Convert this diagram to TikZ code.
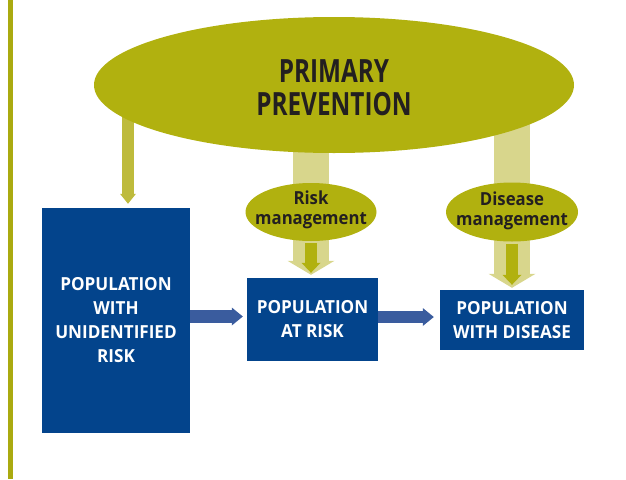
\documentclass[tikz,border=0pt]{standalone}
\usepackage{fontspec}
\setmainfont{Open Sans}
\newfontfamily\titlefont[FakeStretch=0.76]{Open Sans}
\newfontfamily\boxfont[FakeStretch=0.95]{Open Sans}
\newfontfamily\mgmtfont[FakeStretch=0.93]{Open Sans}
\usetikzlibrary{shapes.geometric,arrows.meta,backgrounds}
\definecolor{olivemain}{HTML}{B1B10F}
\definecolor{olivebar}{HTML}{AAAA10}
\definecolor{olivepale}{HTML}{D8D68C}
\definecolor{oliveleft}{HTML}{BEBB3C}
\definecolor{boxblue}{HTML}{03448C}
\definecolor{arrblue}{HTML}{3A5C9E}
\definecolor{textdark}{HTML}{231F20}
\tikzset{
  bigell/.style={ellipse, fill=olivemain, minimum width=480pt, minimum height=136pt, inner sep=0pt},
  mgmtell/.style={ellipse, fill=olivemain, minimum width=131pt, minimum height=58pt, inner sep=0pt},
  mgmttext/.style={text=textdark, align=center, inner sep=0pt, font=\mgmtfont\bfseries\fontsize{18}{19.5}\selectfont},
  popbox/.style={rectangle, fill=boxblue, inner sep=0pt, text=white, align=center,
    font=\boxfont\bfseries\fontsize{18}{24}\selectfont},
  titletext/.style={text=textdark, align=center, inner sep=0pt, font=\titlefont\bfseries\fontsize{32}{33}\selectfont},
  palearr/.style={draw=olivepale, line width=36pt, -{Triangle[width=47pt,length=14pt,line width=0pt]}},
  darkarr/.style={draw=olivemain, line width=12.5pt, -{Triangle[width=19pt,length=10pt,line width=0pt]}},
  leftarr/.style={draw=oliveleft, line width=12pt, -{Triangle[width=16pt,length=10pt,line width=0pt]}},
  bluearr/.style={draw=arrblue, line width=12.5pt, -{Triangle[width=18pt,length=11pt,line width=0pt]}}
}
\begin{document}
\begin{tikzpicture}[x=1pt,y=-1pt]
\useasboundingbox (0,0) rectangle (626,479);
% left decorative bar
\fill[olivebar] (8,0) rectangle (13,479);
% main nodes
\node[bigell] (pp) at (334,85) {};
\node[titletext] (pptext) at (334,88) {PRIMARY\\PREVENTION};
\node[mgmtell] (rm) at (311,212) {};
\node[mgmttext] (rmtext) at (311,210) {Risk\\management};
\node[mgmtell, minimum width=132pt, minimum height=59pt] (dm) at (512,212) {};
\node[mgmttext] (dmtext) at (512,211) {Disease\\management};
\node[popbox, minimum width=148pt, minimum height=225pt] (ubox) at (116,320.5) {POPULATION\\WITH\\UNIDENTIFIED\\RISK};
\node[popbox, minimum width=131pt, minimum height=83pt] (rbox) at (312.5,319) {POPULATION\\AT RISK};
\node[popbox, minimum width=144pt, minimum height=60pt] (dbox) at (512,320) {POPULATION\\WITH DISEASE};
% helper coordinates
\coordinate (lx) at (128,0);
\coordinate (h1) at (0,316.5);
\coordinate (h2) at (0,317);
% arrows behind the ellipses
\begin{scope}[on background layer]
  \draw[leftarr, shorten >=4pt] (lx |- pp) -- (lx |- ubox.north);
  \draw[palearr, shorten >=2.5pt] (rm |- pp) -- (rm |- rbox.north);
  \draw[palearr, shorten >=2pt] (dm |- pp) -- (dm |- dbox.north);
\end{scope}
% dark inner arrows
\draw[darkarr, shorten >=4.5pt] ([yshift=-2pt]rm.south) -- (rm |- rbox.north);
\draw[darkarr, shorten >=5pt] ([yshift=-2pt]dm.south) -- (dm |- dbox.north);
% horizontal blue arrows
\draw[bluearr, shorten >=4pt] (ubox.east |- h1) -- (rbox.west |- h1);
\draw[bluearr, shorten >=6pt] (rbox.east |- h2) -- (dbox.west |- h2);
\end{tikzpicture}
\end{document}
